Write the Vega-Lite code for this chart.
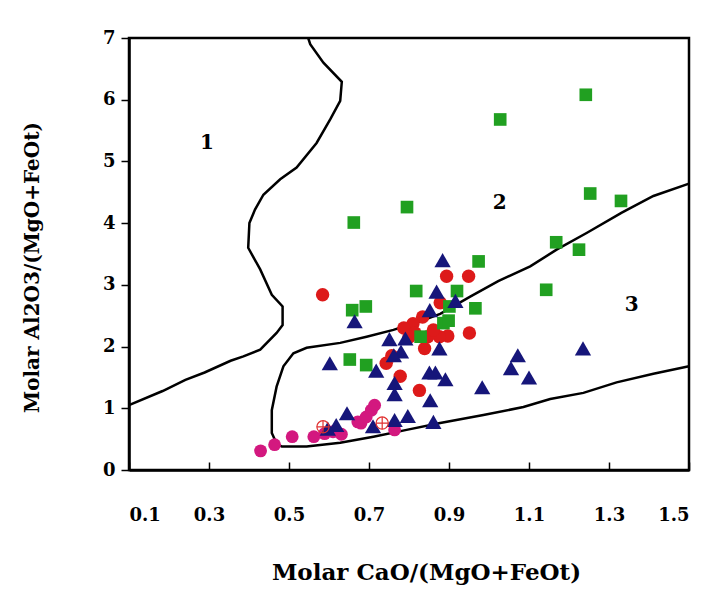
{
  "$schema": "https://vega.github.io/schema/vega-lite/v6.json",
  "width": 560,
  "height": 432,
  "autosize": {"type": "none"},
  "padding": {"left": 129, "top": 38, "right": 17, "bottom": 120},
  "background": "white",
  "config": {"view": {"stroke": "black", "strokeWidth": 2.5}, "font": "DejaVu Serif"},
  "datasets": {
    "lines": [
      {"curve": "a", "ord": 1, "x": 0.548, "y": 7.0},
      {"curve": "a", "ord": 2, "x": 0.553, "y": 6.9},
      {"curve": "a", "ord": 3, "x": 0.586, "y": 6.6},
      {"curve": "a", "ord": 4, "x": 0.632, "y": 6.29},
      {"curve": "a", "ord": 5, "x": 0.628, "y": 5.98},
      {"curve": "a", "ord": 6, "x": 0.603, "y": 5.68},
      {"curve": "a", "ord": 7, "x": 0.569, "y": 5.3},
      {"curve": "a", "ord": 8, "x": 0.519, "y": 4.9},
      {"curve": "a", "ord": 9, "x": 0.478, "y": 4.71},
      {"curve": "a", "ord": 10, "x": 0.436, "y": 4.46},
      {"curve": "a", "ord": 11, "x": 0.415, "y": 4.22},
      {"curve": "a", "ord": 12, "x": 0.401, "y": 4.0},
      {"curve": "a", "ord": 13, "x": 0.398, "y": 3.6},
      {"curve": "a", "ord": 14, "x": 0.428, "y": 3.25},
      {"curve": "a", "ord": 15, "x": 0.457, "y": 2.84},
      {"curve": "a", "ord": 16, "x": 0.484, "y": 2.65},
      {"curve": "a", "ord": 17, "x": 0.484, "y": 2.35},
      {"curve": "a", "ord": 18, "x": 0.469, "y": 2.22},
      {"curve": "a", "ord": 19, "x": 0.428, "y": 1.95},
      {"curve": "a", "ord": 20, "x": 0.386, "y": 1.84},
      {"curve": "a", "ord": 21, "x": 0.354, "y": 1.77},
      {"curve": "a", "ord": 22, "x": 0.289, "y": 1.58},
      {"curve": "a", "ord": 23, "x": 0.241, "y": 1.46},
      {"curve": "a", "ord": 24, "x": 0.184, "y": 1.28},
      {"curve": "a", "ord": 25, "x": 0.1, "y": 1.05},
      {"curve": "b", "ord": 1, "x": 1.5, "y": 4.64},
      {"curve": "b", "ord": 2, "x": 1.411, "y": 4.44},
      {"curve": "b", "ord": 3, "x": 1.332, "y": 4.17},
      {"curve": "b", "ord": 4, "x": 1.244, "y": 3.84},
      {"curve": "b", "ord": 5, "x": 1.169, "y": 3.57},
      {"curve": "b", "ord": 6, "x": 1.103, "y": 3.3},
      {"curve": "b", "ord": 7, "x": 1.023, "y": 3.06},
      {"curve": "b", "ord": 8, "x": 0.953, "y": 2.81},
      {"curve": "b", "ord": 9, "x": 0.878, "y": 2.53},
      {"curve": "b", "ord": 10, "x": 0.828, "y": 2.41},
      {"curve": "b", "ord": 11, "x": 0.761, "y": 2.27},
      {"curve": "b", "ord": 12, "x": 0.694, "y": 2.16},
      {"curve": "b", "ord": 13, "x": 0.628, "y": 2.06},
      {"curve": "b", "ord": 14, "x": 0.544, "y": 1.98},
      {"curve": "b", "ord": 15, "x": 0.511, "y": 1.89},
      {"curve": "b", "ord": 16, "x": 0.486, "y": 1.68},
      {"curve": "b", "ord": 17, "x": 0.469, "y": 1.35},
      {"curve": "b", "ord": 18, "x": 0.457, "y": 0.97},
      {"curve": "b", "ord": 19, "x": 0.457, "y": 0.6},
      {"curve": "b", "ord": 20, "x": 0.469, "y": 0.43},
      {"curve": "b", "ord": 21, "x": 0.482, "y": 0.38},
      {"curve": "b", "ord": 22, "x": 0.544, "y": 0.38},
      {"curve": "b", "ord": 23, "x": 0.628, "y": 0.44},
      {"curve": "b", "ord": 24, "x": 0.711, "y": 0.54},
      {"curve": "b", "ord": 25, "x": 0.794, "y": 0.65},
      {"curve": "b", "ord": 26, "x": 0.878, "y": 0.76},
      {"curve": "b", "ord": 27, "x": 0.986, "y": 0.89},
      {"curve": "b", "ord": 28, "x": 1.086, "y": 1.02},
      {"curve": "b", "ord": 29, "x": 1.153, "y": 1.15},
      {"curve": "b", "ord": 30, "x": 1.236, "y": 1.25},
      {"curve": "b", "ord": 31, "x": 1.319, "y": 1.42},
      {"curve": "b", "ord": 32, "x": 1.411, "y": 1.56},
      {"curve": "b", "ord": 33, "x": 1.5, "y": 1.68}
    ],
    "pts": [
      {"g": "pink", "x": 0.429, "y": 0.31},
      {"g": "pink", "x": 0.464, "y": 0.41},
      {"g": "pink", "x": 0.508, "y": 0.54},
      {"g": "pink", "x": 0.562, "y": 0.54},
      {"g": "pink", "x": 0.589, "y": 0.59},
      {"g": "pink", "x": 0.61, "y": 0.62},
      {"g": "pink", "x": 0.631, "y": 0.58},
      {"g": "pink", "x": 0.672, "y": 0.78},
      {"g": "pink", "x": 0.68, "y": 0.76},
      {"g": "pink", "x": 0.693, "y": 0.86},
      {"g": "pink", "x": 0.706, "y": 0.97},
      {"g": "pink", "x": 0.714, "y": 1.05},
      {"g": "pink", "x": 0.764, "y": 0.65},
      {"g": "red", "x": 0.584, "y": 2.84},
      {"g": "red", "x": 0.894, "y": 3.14},
      {"g": "red", "x": 0.949, "y": 3.14},
      {"g": "red", "x": 0.878, "y": 2.71},
      {"g": "red", "x": 0.951, "y": 2.22},
      {"g": "red", "x": 0.897, "y": 2.17},
      {"g": "red", "x": 0.876, "y": 2.16},
      {"g": "red", "x": 0.847, "y": 2.16},
      {"g": "red", "x": 0.834, "y": 2.48},
      {"g": "red", "x": 0.81, "y": 2.37},
      {"g": "red", "x": 0.787, "y": 2.3},
      {"g": "red", "x": 0.861, "y": 2.27},
      {"g": "red", "x": 0.815, "y": 2.22},
      {"g": "red", "x": 0.8, "y": 2.15},
      {"g": "red", "x": 0.839, "y": 1.97},
      {"g": "red", "x": 0.743, "y": 1.73},
      {"g": "red", "x": 0.757, "y": 1.85},
      {"g": "red", "x": 0.778, "y": 1.52},
      {"g": "red", "x": 0.826, "y": 1.29},
      {"g": "green", "x": 1.242, "y": 6.08},
      {"g": "green", "x": 1.028, "y": 5.68},
      {"g": "green", "x": 1.253, "y": 4.48},
      {"g": "green", "x": 1.33, "y": 4.36},
      {"g": "green", "x": 0.795, "y": 4.26},
      {"g": "green", "x": 0.662, "y": 4.01},
      {"g": "green", "x": 1.168, "y": 3.69},
      {"g": "green", "x": 1.225, "y": 3.57},
      {"g": "green", "x": 0.974, "y": 3.38},
      {"g": "green", "x": 0.818, "y": 2.9},
      {"g": "green", "x": 0.92, "y": 2.9},
      {"g": "green", "x": 1.143, "y": 2.92},
      {"g": "green", "x": 0.966, "y": 2.62},
      {"g": "green", "x": 0.658, "y": 2.59},
      {"g": "green", "x": 0.692, "y": 2.65},
      {"g": "green", "x": 0.652, "y": 1.79},
      {"g": "green", "x": 0.693, "y": 1.7},
      {"g": "green", "x": 0.829, "y": 2.16},
      {"g": "green", "x": 0.886, "y": 2.38},
      {"g": "green", "x": 0.899, "y": 2.42},
      {"g": "green", "x": 0.901, "y": 2.65},
      {"g": "blue", "x": 0.884, "y": 3.4},
      {"g": "blue", "x": 0.869, "y": 2.89},
      {"g": "blue", "x": 0.916, "y": 2.74},
      {"g": "blue", "x": 0.852, "y": 2.59},
      {"g": "blue", "x": 0.664, "y": 2.41},
      {"g": "blue", "x": 0.751, "y": 2.12},
      {"g": "blue", "x": 0.791, "y": 2.13},
      {"g": "blue", "x": 0.78, "y": 1.92},
      {"g": "blue", "x": 0.762, "y": 1.86},
      {"g": "blue", "x": 0.876, "y": 1.97},
      {"g": "blue", "x": 0.718, "y": 1.61},
      {"g": "blue", "x": 0.764, "y": 1.41},
      {"g": "blue", "x": 0.764, "y": 1.23},
      {"g": "blue", "x": 0.851, "y": 1.58},
      {"g": "blue", "x": 0.866, "y": 1.58},
      {"g": "blue", "x": 0.891, "y": 1.47},
      {"g": "blue", "x": 0.853, "y": 1.13},
      {"g": "blue", "x": 0.983, "y": 1.34},
      {"g": "blue", "x": 0.797, "y": 0.875},
      {"g": "blue", "x": 0.764, "y": 0.81},
      {"g": "blue", "x": 0.71, "y": 0.71},
      {"g": "blue", "x": 0.861, "y": 0.78},
      {"g": "blue", "x": 1.072, "y": 1.86},
      {"g": "blue", "x": 1.055, "y": 1.65},
      {"g": "blue", "x": 1.1, "y": 1.5},
      {"g": "blue", "x": 1.235, "y": 1.97},
      {"g": "blue", "x": 0.602, "y": 1.73},
      {"g": "blue", "x": 0.645, "y": 0.92},
      {"g": "blue", "x": 0.618, "y": 0.73},
      {"g": "blue", "x": 0.597, "y": 0.67}
    ],
    "crossed": [
      {"x": 0.585, "y": 0.7},
      {"x": 0.733, "y": 0.76}
    ],
    "labels": [
      {"x": 0.295, "y": 5.3, "t": "1"},
      {"x": 1.027, "y": 4.33, "t": "2"},
      {"x": 1.357, "y": 2.67, "t": "3"}
    ]
  },
  "encoding": {
    "x": {
      "field": "x",
      "type": "quantitative",
      "scale": {"domain": [0.1, 1.5], "nice": false, "zero": false},
      "axis": {
        "title": "Molar CaO/(MgO+FeOt)",
        "values": [0.1, 0.3, 0.5, 0.7, 0.9, 1.1, 1.3, 1.5],
        "format": ".1f",
        "grid": false,
        "domainColor": "black",
        "domainWidth": 2.5,
        "tickColor": "black",
        "tickWidth": 1.5,
        "tickSize": -8,
        "labelFont": "DejaVu Serif",
        "labelFontWeight": "bold",
        "labelFontSize": 18,
        "labelColor": "black",
        "labelPadding": 44,
        "titleFont": "DejaVu Serif",
        "titleFontWeight": "bold",
        "titleFontSize": 23,
        "titleColor": "black",
        "titlePadding": 37,
        "titleX": 297
      }
    },
    "y": {
      "field": "y",
      "type": "quantitative",
      "scale": {"domain": [0, 7], "nice": false, "zero": false},
      "axis": {
        "title": "Molar Al2O3/(MgO+FeOt)",
        "values": [0, 1, 2, 3, 4, 5, 6, 7],
        "grid": false,
        "domainColor": "black",
        "domainWidth": 2.5,
        "tickColor": "black",
        "tickWidth": 1.5,
        "tickSize": 8,
        "labelFont": "DejaVu Serif",
        "labelFontWeight": "bold",
        "labelFontSize": 18,
        "labelColor": "black",
        "labelPadding": 6,
        "titleFont": "DejaVu Serif",
        "titleFontWeight": "bold",
        "titleFontSize": 20,
        "titleColor": "black",
        "titlePadding": 60,
        "titleY": 229
      }
    }
  },
  "layer": [
    {
      "data": {"name": "lines"},
      "mark": {"type": "line", "color": "black", "strokeWidth": 2.5},
      "encoding": {
        "detail": {"field": "curve"},
        "order": {"field": "ord", "type": "quantitative"}
      }
    },
    {
      "data": {"name": "pts"},
      "mark": {"type": "point", "filled": true, "opacity": 1},
      "encoding": {
        "shape": {
          "field": "g",
          "type": "nominal",
          "scale": {"domain": ["pink", "red", "green", "blue"], "range": ["circle", "circle", "square", "triangle-up"]},
          "legend": null
        },
        "color": {
          "field": "g",
          "type": "nominal",
          "scale": {"domain": ["pink", "red", "green", "blue"], "range": ["#d3187f", "#dd1a1a", "#21a021", "#16167a"]},
          "legend": null
        },
        "size": {
          "field": "g",
          "type": "ordinal",
          "scale": {"type": "ordinal", "domain": ["pink", "red", "green", "blue"], "range": [165, 180, 160, 265]},
          "legend": null
        }
      }
    },
    {
      "data": {"name": "crossed"},
      "mark": {"type": "point", "shape": "circle", "filled": false, "stroke": "#e03030", "strokeWidth": 1.2, "size": 150, "opacity": 1}
    },
    {
      "data": {"name": "crossed"},
      "mark": {"type": "point", "shape": "M -1 0 L 1 0 M 0 -1 L 0 1", "filled": false, "stroke": "#e03030", "strokeWidth": 1.2, "size": 150, "opacity": 1}
    },
    {
      "data": {"name": "labels"},
      "mark": {"type": "text", "font": "DejaVu Serif", "fontWeight": "bold", "fontSize": 20, "color": "black"},
      "encoding": {"text": {"field": "t"}}
    }
  ]
}
